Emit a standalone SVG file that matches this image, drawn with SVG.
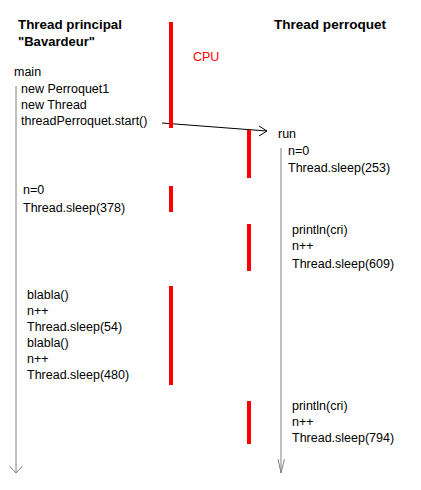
<svg xmlns="http://www.w3.org/2000/svg" width="421" height="490" viewBox="0 0 421 490">
<style>
text{font-family:"Liberation Sans",Arial,sans-serif;font-size:12.5px;fill:#000}
.h{font-weight:bold;font-size:13px}
.cpu{fill:#ff0000;font-size:12.5px}
.life{stroke:#808080;stroke-width:1;fill:none}
.bar{stroke:#ff0000;stroke-width:4;fill:none}
.call{stroke:#000;stroke-width:1;fill:none}
</style>
<rect width="421" height="490" fill="#fff"/>
<g id="connectors">
<path class="life" d="M16,86 V473 M9.5,466 L16,473 L22.5,466"/>
<path class="life" d="M281,148 V473 M278,459 L281,473 L284.5,459"/>
<path class="call" d="M162,123 L267,131 M259,126 L267,131 L259,136"/>
</g>
<g id="cpu-bars">
<path class="bar" d="M171,22 V128 M171,186 V212 M171,286 V385"/>
<path class="bar" d="M249,130 V178 M249,224 V271 M249,401 V444"/>
<text class="cpu" x="193" y="61">CPU</text>
</g>
<g id="thread-principal">
<text class="h" x="18" y="29" textLength="104" lengthAdjust="spacingAndGlyphs">Thread principal</text>
<text class="h" x="18" y="46" textLength="77" lengthAdjust="spacingAndGlyphs">"Bavardeur"</text>
<text x="14" y="76">main</text>
<text x="21" y="93">new Perroquet1</text>
<text x="21" y="109">new Thread</text>
<text x="21" y="125">threadPerroquet.start()</text>
<text x="23" y="194">n=0</text>
<text x="23" y="212">Thread.sleep(378)</text>
<text x="27" y="299">blabla()</text>
<text x="27" y="315">n++</text>
<text x="27" y="331">Thread.sleep(54)</text>
<text x="27" y="347">blabla()</text>
<text x="27" y="363">n++</text>
<text x="27" y="379">Thread.sleep(480)</text>
</g>
<g id="thread-perroquet">
<text class="h" x="274" y="29" textLength="112" lengthAdjust="spacingAndGlyphs">Thread perroquet</text>
<text x="278" y="138">run</text>
<text x="288" y="155">n=0</text>
<text x="288" y="172">Thread.sleep(253)</text>
<text x="292" y="234">println(cri)</text>
<text x="292" y="250">n++</text>
<text x="292" y="268">Thread.sleep(609)</text>
<text x="292" y="410">println(cri)</text>
<text x="292" y="426">n++</text>
<text x="292" y="442">Thread.sleep(794)</text>
</g>
</svg>
